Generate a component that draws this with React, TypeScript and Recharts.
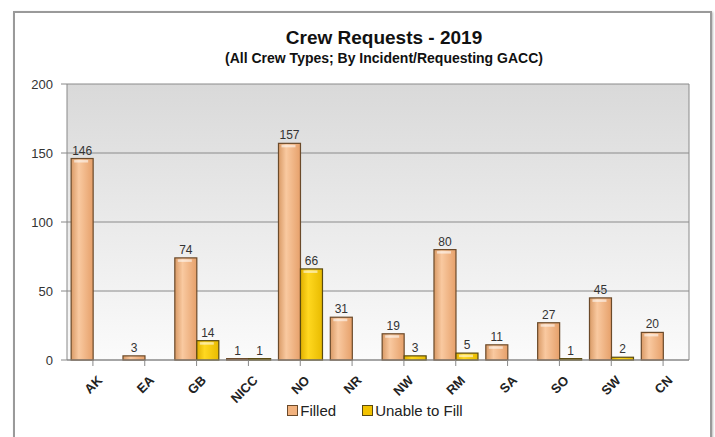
import React from "react";
import {
  BarChart,
  Bar,
  XAxis,
  YAxis,
  CartesianGrid,
  Legend,
  LabelList,
} from "recharts";

const regions = ["AK", "EA", "GB", "NICC", "NO", "NR", "NW", "RM", "SA", "SO", "SW", "CN"];
const filled = [146, 3, 74, 1, 157, 31, 19, 80, 11, 27, 45, 20];
const unableToFill = [0, 0, 14, 1, 66, 0, 3, 5, 0, 1, 2, 0];
const yTicks = [0, 50, 100, 150, 200];

const data = regions.map((region, i) => ({
  region,
  filled: filled[i],
  unable: unableToFill[i],
}));

const FONT = '"Liberation Sans", Arial, sans-serif';

const BevelBar = (props: any) => {
  const { x, y, width, height, gradId, stroke } = props;
  if (!height || height <= 0) return null;
  return (
    <g>
      <rect
        x={x}
        y={y}
        width={width}
        height={height}
        fill={`url(#${gradId})`}
        stroke={stroke}
        strokeWidth={1.2}
      />
      {height > 6 && (
        <rect
          x={x + 3}
          y={y + 1.5}
          width={Math.max(width - 8, 0)}
          height={2.5}
          fill="#fff"
          opacity={0.55}
        />
      )}
    </g>
  );
};

const XTick = (props: any) => {
  const { x, y, payload } = props;
  return (
    <text
      transform={`translate(${x + 7},${y + 10}) rotate(-45)`}
      textAnchor="end"
      dy="0.35em"
      fontSize={13}
      fontWeight="bold"
      fontFamily={FONT}
      fill="#222"
    >
      {payload.value}
    </text>
  );
};

const LegendContent = () => (
  <div
    style={{
      height: 20,
      display: "flex",
      justifyContent: "center",
      alignItems: "center",
      fontFamily: FONT,
      fontSize: 15,
      color: "#222",
      paddingLeft: 60,
    }}
  >
    <span style={{ display: "flex", alignItems: "center", marginRight: 26 }}>
      <span
        style={{
          width: 9,
          height: 9,
          background: "#f2b27e",
          border: "1px solid #6b4a2a",
          marginRight: 2,
        }}
      />
      Filled
    </span>
    <span style={{ display: "flex", alignItems: "center" }}>
      <span
        style={{
          width: 9,
          height: 9,
          background: "#f2c200",
          border: "1px solid #5a4a10",
          marginRight: 2,
        }}
      />
      Unable to Fill
    </span>
  </div>
);

const hideZero = (v: any) => (v ? v : "");

export default function App() {
  return (
    <div
      style={{
        position: "absolute",
        left: 0,
        top: 0,
        width: 715,
        height: 437,
        background: "#fff",
        overflow: "hidden",
      }}
    >
      <div
        style={{
          position: "absolute",
          left: 13,
          top: 11,
          width: 695,
          height: 440,
          border: "2px solid #9a9a9a",
          boxShadow: "1px 1px 2px #bbb",
        }}
      />
      <div
        style={{
          position: "absolute",
          left: 0,
          width: 768,
          top: 27,
          textAlign: "center",
          fontFamily: FONT,
          fontWeight: "bold",
          fontSize: 19,
          color: "#111",
        }}
      >
        Crew Requests - 2019
      </div>
      <div
        style={{
          position: "absolute",
          left: 0,
          width: 768,
          top: 50,
          textAlign: "center",
          fontFamily: FONT,
          fontWeight: "bold",
          fontSize: 14,
          color: "#111",
        }}
      >
        (All Crew Types; By Incident/Requesting GACC)
      </div>
      <div style={{ position: "absolute", left: 0, top: 0 }}>
        <BarChart
          width={715}
          height={437}
          data={data}
          margin={{ top: 84, right: 25, left: 0, bottom: 17 }}
          barCategoryGap="8%"
          barGap={0}
        >
          <defs>
            <linearGradient id="plotBg" x1="0" y1="0" x2="0" y2="1">
              <stop offset="0%" stopColor="#d9d9d9" />
              <stop offset="100%" stopColor="#fbfbfb" />
            </linearGradient>
            <linearGradient id="filledGrad" x1="0" y1="0" x2="1" y2="0">
              <stop offset="0%" stopColor="#d99a66" />
              <stop offset="35%" stopColor="#f9c9a0" />
              <stop offset="100%" stopColor="#e6a06a" />
            </linearGradient>
            <linearGradient id="unableGrad" x1="0" y1="0" x2="1" y2="0">
              <stop offset="0%" stopColor="#e0b000" />
              <stop offset="35%" stopColor="#ffd820" />
              <stop offset="100%" stopColor="#e8bb00" />
            </linearGradient>
          </defs>
          <CartesianGrid
            vertical={false}
            stroke="#8a8a8a"
            fill="url(#plotBg)"
            fillOpacity={1}
          />
          <XAxis
            dataKey="region"
            height={40}
            interval={0}
            tick={<XTick />}
            axisLine={{ stroke: "#888" }}
            tickLine={{ stroke: "#888" }}
          />
          <YAxis
            width={67}
            domain={[0, 200]}
            ticks={yTicks}
            tickMargin={8}
            tick={{ fontSize: 13, fill: "#333", fontFamily: FONT }}
            axisLine={{ stroke: "#888" }}
            tickLine={{ stroke: "#888" }}
          />
          <YAxis
            yAxisId="frame"
            orientation="right"
            width={1}
            tick={false}
            tickLine={false}
            axisLine={{ stroke: "#8a8a8a" }}
          />
          <Legend verticalAlign="bottom" content={<LegendContent />} />
          <Bar
            dataKey="filled"
            name="Filled"
            isAnimationActive={false}
            shape={(p: any) => <BevelBar {...p} gradId="filledGrad" stroke="#6b4a2a" />}
          >
            <LabelList
              dataKey="filled"
              position="top"
              offset={4}
              formatter={hideZero}
              style={{ fontSize: 12, fill: "#333", fontFamily: FONT }}
            />
          </Bar>
          <Bar
            dataKey="unable"
            name="Unable to Fill"
            isAnimationActive={false}
            shape={(p: any) => <BevelBar {...p} gradId="unableGrad" stroke="#5a4a10" />}
          >
            <LabelList
              dataKey="unable"
              position="top"
              offset={4}
              formatter={hideZero}
              style={{ fontSize: 12, fill: "#333", fontFamily: FONT }}
            />
          </Bar>
        </BarChart>
      </div>
    </div>
  );
}
